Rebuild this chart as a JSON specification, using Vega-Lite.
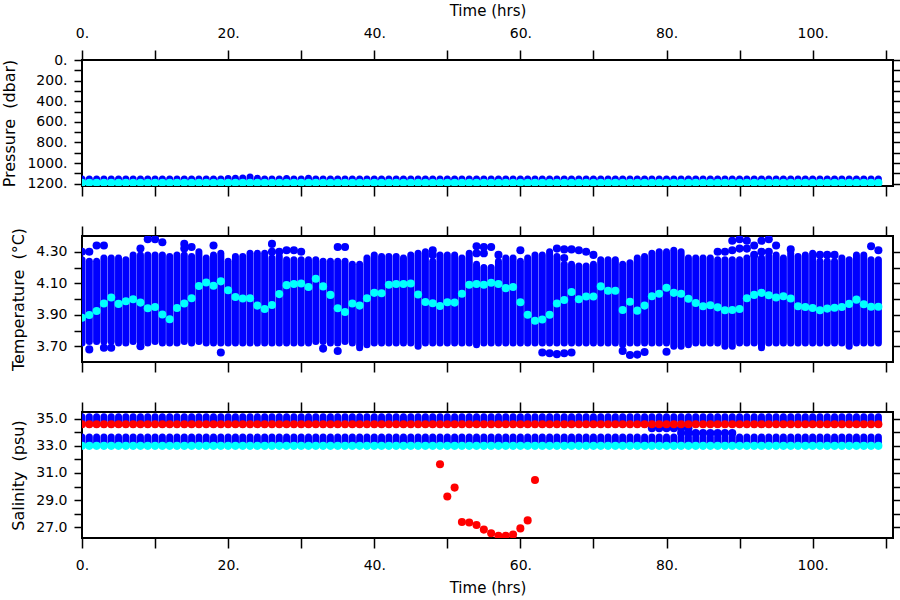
{
  "$schema": "https://vega.github.io/schema/vega-lite/v6.json",
  "background": "white",
  "padding": {"left": 0, "top": 2, "right": 5, "bottom": 5},
  "datasets": {
    "obs": [
      {"t":0,"plo":1155,"pc":1192,"lo":3.72,"hi":4.25,"c":3.881,"sb":35.15,"sr":34.6,"sd":33.2,"se":33.65,"sc":33.0},
      {"t":1,"plo":1155,"pc":1192,"lo":3.73,"hi":4.24,"c":3.898,"sb":35.15,"sr":34.6,"sd":33.2,"se":33.65,"sc":33.0},
      {"t":2,"plo":1155,"pc":1192,"lo":3.73,"hi":4.24,"c":3.924,"sb":35.15,"sr":34.6,"sd":33.2,"se":33.65,"sc":33.0},
      {"t":3,"plo":1155,"pc":1192,"lo":3.73,"hi":4.26,"c":3.971,"sb":35.15,"sr":34.6,"sd":33.2,"se":33.65,"sc":33.0},
      {"t":4,"plo":1155,"pc":1192,"lo":3.73,"hi":4.26,"c":4.009,"sb":35.15,"sr":34.6,"sd":33.2,"se":33.65,"sc":33.0},
      {"t":5,"plo":1155,"pc":1192,"lo":3.72,"hi":4.26,"c":3.969,"sb":35.15,"sr":34.6,"sd":33.2,"se":33.65,"sc":33.0},
      {"t":6,"plo":1155,"pc":1192,"lo":3.72,"hi":4.25,"c":3.986,"sb":35.15,"sr":34.6,"sd":33.2,"se":33.65,"sc":33.0},
      {"t":7,"plo":1155,"pc":1192,"lo":3.73,"hi":4.28,"c":3.999,"sb":35.15,"sr":34.6,"sd":33.2,"se":33.65,"sc":33.0},
      {"t":8,"plo":1155,"pc":1192,"lo":3.72,"hi":4.28,"c":3.977,"sb":35.15,"sr":34.6,"sd":33.2,"se":33.65,"sc":33.0},
      {"t":9,"plo":1155,"pc":1192,"lo":3.72,"hi":4.28,"c":3.941,"sb":35.15,"sr":34.6,"sd":33.2,"se":33.65,"sc":33.0},
      {"t":10,"plo":1155,"pc":1192,"lo":3.73,"hi":4.28,"c":3.949,"sb":35.15,"sr":34.6,"sd":33.2,"se":33.65,"sc":33.0},
      {"t":11,"plo":1155,"pc":1192,"lo":3.72,"hi":4.28,"c":3.902,"sb":35.15,"sr":34.6,"sd":33.2,"se":33.65,"sc":33.0},
      {"t":12,"plo":1155,"pc":1192,"lo":3.72,"hi":4.27,"c":3.872,"sb":35.15,"sr":34.6,"sd":33.2,"se":33.65,"sc":33.0},
      {"t":13,"plo":1155,"pc":1192,"lo":3.72,"hi":4.28,"c":3.943,"sb":35.15,"sr":34.6,"sd":33.2,"se":33.65,"sc":33.0},
      {"t":14,"plo":1155,"pc":1192,"lo":3.73,"hi":4.28,"c":3.971,"sb":35.15,"sr":34.6,"sd":33.2,"se":33.65,"sc":33.0},
      {"t":15,"plo":1155,"pc":1192,"lo":3.72,"hi":4.27,"c":4.005,"sb":35.15,"sr":34.6,"sd":33.2,"se":33.65,"sc":33.0},
      {"t":16,"plo":1155,"pc":1192,"lo":3.73,"hi":4.30,"c":4.082,"sb":35.15,"sr":34.6,"sd":33.2,"se":33.65,"sc":33.0},
      {"t":17,"plo":1155,"pc":1192,"lo":3.72,"hi":4.26,"c":4.105,"sb":35.15,"sr":34.6,"sd":33.2,"se":33.65,"sc":33.0},
      {"t":18,"plo":1155,"pc":1192,"lo":3.72,"hi":4.28,"c":4.084,"sb":35.15,"sr":34.6,"sd":33.2,"se":33.65,"sc":33.0},
      {"t":19,"plo":1155,"pc":1192,"lo":3.72,"hi":4.29,"c":4.112,"sb":35.15,"sr":34.6,"sd":33.2,"se":33.65,"sc":33.0},
      {"t":20,"plo":1150,"pc":1192,"lo":3.72,"hi":4.24,"c":4.056,"sb":35.15,"sr":34.6,"sd":33.2,"se":33.65,"sc":33.0},
      {"t":21,"plo":1148,"pc":1192,"lo":3.72,"hi":4.27,"c":4.013,"sb":35.15,"sr":34.6,"sd":33.2,"se":33.65,"sc":33.0},
      {"t":22,"plo":1145,"pc":1192,"lo":3.72,"hi":4.27,"c":4.003,"sb":35.15,"sr":34.6,"sd":33.2,"se":33.65,"sc":33.0},
      {"t":23,"plo":1135,"pc":1192,"lo":3.72,"hi":4.29,"c":4.005,"sb":35.15,"sr":34.6,"sd":33.2,"se":33.65,"sc":33.0},
      {"t":24,"plo":1148,"pc":1192,"lo":3.72,"hi":4.29,"c":3.958,"sb":35.15,"sr":34.6,"sd":33.2,"se":33.65,"sc":33.0},
      {"t":25,"plo":1155,"pc":1192,"lo":3.72,"hi":4.29,"c":3.937,"sb":35.15,"sr":34.6,"sd":33.2,"se":33.65,"sc":33.0},
      {"t":26,"plo":1155,"pc":1192,"lo":3.72,"hi":4.26,"c":3.962,"sb":35.15,"sr":34.6,"sd":33.2,"se":33.65,"sc":33.0},
      {"t":27,"plo":1155,"pc":1192,"lo":3.72,"hi":4.27,"c":4.031,"sb":35.15,"sr":34.6,"sd":33.2,"se":33.65,"sc":33.0},
      {"t":28,"plo":1150,"pc":1192,"lo":3.72,"hi":4.25,"c":4.088,"sb":35.15,"sr":34.6,"sd":33.2,"se":33.65,"sc":33.0},
      {"t":29,"plo":1155,"pc":1192,"lo":3.72,"hi":4.25,"c":4.095,"sb":35.15,"sr":34.6,"sd":33.2,"se":33.65,"sc":33.0},
      {"t":30,"plo":1155,"pc":1192,"lo":3.72,"hi":4.25,"c":4.099,"sb":35.15,"sr":34.6,"sd":33.2,"se":33.65,"sc":33.0},
      {"t":31,"plo":1148,"pc":1192,"lo":3.72,"hi":4.25,"c":4.076,"sb":35.15,"sr":34.6,"sd":33.2,"se":33.65,"sc":33.0},
      {"t":32,"plo":1155,"pc":1192,"lo":3.73,"hi":4.25,"c":4.129,"sb":35.15,"sr":34.6,"sd":33.2,"se":33.65,"sc":33.0},
      {"t":33,"plo":1155,"pc":1192,"lo":3.73,"hi":4.24,"c":4.080,"sb":35.15,"sr":34.6,"sd":33.2,"se":33.65,"sc":33.0},
      {"t":34,"plo":1155,"pc":1192,"lo":3.72,"hi":4.24,"c":4.026,"sb":35.15,"sr":34.6,"sd":33.2,"se":33.65,"sc":33.0},
      {"t":35,"plo":1155,"pc":1192,"lo":3.72,"hi":4.24,"c":3.941,"sb":35.15,"sr":34.6,"sd":33.2,"se":33.65,"sc":33.0},
      {"t":36,"plo":1155,"pc":1192,"lo":3.73,"hi":4.24,"c":3.917,"sb":35.15,"sr":34.6,"sd":33.2,"se":33.65,"sc":33.0},
      {"t":37,"plo":1155,"pc":1192,"lo":3.72,"hi":4.22,"c":3.972,"sb":35.15,"sr":34.6,"sd":33.2,"se":33.65,"sc":33.0},
      {"t":38,"plo":1155,"pc":1192,"lo":3.69,"hi":4.22,"c":3.958,"sb":35.15,"sr":34.6,"sd":33.2,"se":33.65,"sc":33.0},
      {"t":39,"plo":1155,"pc":1192,"lo":3.71,"hi":4.26,"c":4.005,"sb":35.15,"sr":34.6,"sd":33.2,"se":33.65,"sc":33.0},
      {"t":40,"plo":1155,"pc":1192,"lo":3.72,"hi":4.28,"c":4.039,"sb":35.15,"sr":34.6,"sd":33.2,"se":33.65,"sc":33.0},
      {"t":41,"plo":1155,"pc":1192,"lo":3.72,"hi":4.27,"c":4.037,"sb":35.15,"sr":34.6,"sd":33.2,"se":33.65,"sc":33.0},
      {"t":42,"plo":1155,"pc":1192,"lo":3.72,"hi":4.27,"c":4.090,"sb":35.15,"sr":34.6,"sd":33.2,"se":33.65,"sc":33.0},
      {"t":43,"plo":1155,"pc":1192,"lo":3.72,"hi":4.27,"c":4.095,"sb":35.15,"sr":34.6,"sd":33.2,"se":33.65,"sc":33.0},
      {"t":44,"plo":1155,"pc":1192,"lo":3.72,"hi":4.26,"c":4.095,"sb":35.15,"sr":34.6,"sd":33.2,"se":33.65,"sc":33.0},
      {"t":45,"plo":1155,"pc":1192,"lo":3.72,"hi":4.28,"c":4.099,"sb":35.15,"sr":34.6,"sd":33.2,"se":33.65,"sc":33.0},
      {"t":46,"plo":1155,"pc":1192,"lo":3.70,"hi":4.29,"c":4.028,"sb":35.15,"sr":34.6,"sd":33.2,"se":33.65,"sc":33.0},
      {"t":47,"plo":1155,"pc":1192,"lo":3.72,"hi":4.30,"c":3.981,"sb":35.15,"sr":34.6,"sd":33.2,"se":33.65,"sc":33.0},
      {"t":48,"plo":1155,"pc":1192,"lo":3.72,"hi":4.24,"c":3.973,"sb":35.15,"sr":34.6,"sd":33.2,"se":33.65,"sc":33.0},
      {"t":49,"plo":1155,"pc":1192,"lo":3.72,"hi":4.28,"c":3.956,"sb":35.15,"sr":34.6,"sd":33.2,"se":33.65,"sc":33.0},
      {"t":50,"plo":1155,"pc":1192,"lo":3.72,"hi":4.28,"c":3.979,"sb":35.15,"sr":34.6,"sd":33.2,"se":33.65,"sc":33.0},
      {"t":51,"plo":1155,"pc":1192,"lo":3.72,"hi":4.28,"c":3.977,"sb":35.15,"sr":34.6,"sd":33.2,"se":33.65,"sc":33.0},
      {"t":52,"plo":1155,"pc":1192,"lo":3.72,"hi":4.26,"c":4.033,"sb":35.15,"sr":34.6,"sd":33.2,"se":33.65,"sc":33.0},
      {"t":53,"plo":1155,"pc":1192,"lo":3.72,"hi":4.29,"c":4.090,"sb":35.15,"sr":34.6,"sd":33.2,"se":33.65,"sc":33.0},
      {"t":54,"plo":1155,"pc":1192,"lo":3.71,"hi":4.22,"c":4.095,"sb":35.15,"sr":34.6,"sd":33.2,"se":33.65,"sc":33.0},
      {"t":55,"plo":1155,"pc":1192,"lo":3.72,"hi":4.20,"c":4.090,"sb":35.15,"sr":34.6,"sd":33.2,"se":33.65,"sc":33.0},
      {"t":56,"plo":1155,"pc":1192,"lo":3.72,"hi":4.20,"c":4.103,"sb":35.15,"sr":34.6,"sd":33.2,"se":33.65,"sc":33.0},
      {"t":57,"plo":1155,"pc":1192,"lo":3.72,"hi":4.24,"c":4.095,"sb":35.15,"sr":34.6,"sd":33.2,"se":33.65,"sc":33.0},
      {"t":58,"plo":1155,"pc":1192,"lo":3.72,"hi":4.26,"c":4.069,"sb":35.15,"sr":34.6,"sd":33.2,"se":33.65,"sc":33.0},
      {"t":59,"plo":1155,"pc":1192,"lo":3.72,"hi":4.26,"c":4.076,"sb":35.15,"sr":34.6,"sd":33.2,"se":33.65,"sc":33.0},
      {"t":60,"plo":1155,"pc":1192,"lo":3.72,"hi":4.24,"c":3.979,"sb":35.15,"sr":34.6,"sd":33.2,"se":33.65,"sc":33.0},
      {"t":61,"plo":1155,"pc":1192,"lo":3.72,"hi":4.26,"c":3.900,"sb":35.15,"sr":34.6,"sd":33.2,"se":33.65,"sc":33.0},
      {"t":62,"plo":1155,"pc":1192,"lo":3.72,"hi":4.28,"c":3.862,"sb":35.15,"sr":34.6,"sd":33.2,"se":33.65,"sc":33.0},
      {"t":63,"plo":1155,"pc":1192,"lo":3.72,"hi":4.28,"c":3.870,"sb":35.15,"sr":34.6,"sd":33.2,"se":33.65,"sc":33.0},
      {"t":64,"plo":1155,"pc":1192,"lo":3.72,"hi":4.30,"c":3.900,"sb":35.15,"sr":34.6,"sd":33.2,"se":33.65,"sc":33.0},
      {"t":65,"plo":1155,"pc":1192,"lo":3.72,"hi":4.27,"c":3.971,"sb":35.15,"sr":34.6,"sd":33.2,"se":33.65,"sc":33.0},
      {"t":66,"plo":1155,"pc":1192,"lo":3.72,"hi":4.22,"c":3.994,"sb":35.15,"sr":34.6,"sd":33.2,"se":33.65,"sc":33.0},
      {"t":67,"plo":1155,"pc":1192,"lo":3.72,"hi":4.22,"c":4.044,"sb":35.15,"sr":34.6,"sd":33.2,"se":33.65,"sc":33.0},
      {"t":68,"plo":1155,"pc":1192,"lo":3.72,"hi":4.21,"c":3.999,"sb":35.15,"sr":34.6,"sd":33.2,"se":33.65,"sc":33.0},
      {"t":69,"plo":1155,"pc":1192,"lo":3.72,"hi":4.21,"c":4.016,"sb":35.15,"sr":34.6,"sd":33.2,"se":33.65,"sc":33.0},
      {"t":70,"plo":1155,"pc":1192,"lo":3.72,"hi":4.22,"c":4.016,"sb":35.15,"sr":34.6,"sd":33.2,"se":33.65,"sc":33.0},
      {"t":71,"plo":1155,"pc":1192,"lo":3.72,"hi":4.25,"c":4.080,"sb":35.15,"sr":34.6,"sd":33.2,"se":33.65,"sc":33.0},
      {"t":72,"plo":1155,"pc":1192,"lo":3.72,"hi":4.25,"c":4.052,"sb":35.15,"sr":34.6,"sd":33.2,"se":33.65,"sc":33.0},
      {"t":73,"plo":1155,"pc":1192,"lo":3.72,"hi":4.25,"c":4.052,"sb":35.15,"sr":34.6,"sd":33.2,"se":33.65,"sc":33.0},
      {"t":74,"plo":1155,"pc":1192,"lo":3.71,"hi":4.22,"c":3.930,"sb":35.15,"sr":34.6,"sd":33.2,"se":33.65,"sc":33.0},
      {"t":75,"plo":1155,"pc":1192,"lo":3.72,"hi":4.23,"c":3.983,"sb":35.15,"sr":34.6,"sd":33.2,"se":33.65,"sc":33.0},
      {"t":76,"plo":1155,"pc":1192,"lo":3.72,"hi":4.26,"c":3.926,"sb":35.15,"sr":34.6,"sd":33.2,"se":33.65,"sc":33.0},
      {"t":77,"plo":1155,"pc":1192,"lo":3.72,"hi":4.27,"c":3.958,"sb":35.15,"sr":34.6,"sd":33.2,"se":33.65,"sc":33.0},
      {"t":78,"plo":1155,"pc":1192,"lo":3.72,"hi":4.29,"c":4.018,"sb":35.15,"sr":34.6,"sd":33.2,"se":33.65,"sc":33.0},
      {"t":79,"plo":1155,"pc":1192,"lo":3.72,"hi":4.30,"c":4.033,"sb":35.15,"sr":34.6,"sd":33.2,"se":33.65,"sc":33.0},
      {"t":80,"plo":1155,"pc":1192,"lo":3.72,"hi":4.30,"c":4.071,"sb":35.15,"sr":34.6,"sd":33.2,"se":33.65,"sc":33.0},
      {"t":81,"plo":1155,"pc":1192,"lo":3.70,"hi":4.31,"c":4.039,"sb":35.15,"sr":34.6,"sd":33.2,"se":33.65,"sc":33.0},
      {"t":82,"plo":1155,"pc":1192,"lo":3.70,"hi":4.30,"c":4.033,"sb":35.15,"sr":34.6,"sd":33.2,"se":33.65,"sc":33.0},
      {"t":83,"plo":1155,"pc":1192,"lo":3.71,"hi":4.26,"c":4.001,"sb":35.15,"sr":34.6,"sd":33.2,"se":33.65,"sc":33.0},
      {"t":84,"plo":1155,"pc":1192,"lo":3.72,"hi":4.26,"c":3.975,"sb":35.15,"sr":34.6,"sd":33.2,"se":33.65,"sc":33.0},
      {"t":85,"plo":1155,"pc":1192,"lo":3.72,"hi":4.26,"c":3.954,"sb":35.15,"sr":34.6,"sd":33.2,"se":33.65,"sc":33.0},
      {"t":86,"plo":1155,"pc":1192,"lo":3.72,"hi":4.26,"c":3.960,"sb":35.15,"sr":34.6,"sd":33.2,"se":33.65,"sc":33.0},
      {"t":87,"plo":1155,"pc":1192,"lo":3.72,"hi":4.25,"c":3.947,"sb":35.15,"sr":34.6,"sd":33.2,"se":33.65,"sc":33.0},
      {"t":88,"plo":1155,"pc":1192,"lo":3.70,"hi":4.25,"c":3.928,"sb":35.15,"sr":34.6,"sd":33.2,"se":33.65,"sc":33.0},
      {"t":89,"plo":1155,"pc":1192,"lo":3.70,"hi":4.25,"c":3.930,"sb":35.15,"sr":34.6,"sd":33.2,"se":33.65,"sc":33.0},
      {"t":90,"plo":1155,"pc":1192,"lo":3.72,"hi":4.25,"c":3.937,"sb":35.15,"sr":34.6,"sd":33.2,"se":33.65,"sc":33.0},
      {"t":91,"plo":1155,"pc":1192,"lo":3.72,"hi":4.26,"c":4.005,"sb":35.15,"sr":34.6,"sd":33.2,"se":33.65,"sc":33.0},
      {"t":92,"plo":1155,"pc":1192,"lo":3.72,"hi":4.27,"c":4.026,"sb":35.15,"sr":34.6,"sd":33.2,"se":33.65,"sc":33.0},
      {"t":93,"plo":1155,"pc":1192,"lo":3.69,"hi":4.26,"c":4.039,"sb":35.15,"sr":34.6,"sd":33.2,"se":33.65,"sc":33.0},
      {"t":94,"plo":1155,"pc":1192,"lo":3.72,"hi":4.27,"c":4.024,"sb":35.15,"sr":34.6,"sd":33.2,"se":33.65,"sc":33.0},
      {"t":95,"plo":1155,"pc":1192,"lo":3.72,"hi":4.28,"c":4.009,"sb":35.15,"sr":34.6,"sd":33.2,"se":33.65,"sc":33.0},
      {"t":96,"plo":1155,"pc":1192,"lo":3.72,"hi":4.26,"c":4.018,"sb":35.15,"sr":34.6,"sd":33.2,"se":33.65,"sc":33.0},
      {"t":97,"plo":1155,"pc":1192,"lo":3.72,"hi":4.29,"c":4.003,"sb":35.15,"sr":34.6,"sd":33.2,"se":33.65,"sc":33.0},
      {"t":98,"plo":1155,"pc":1192,"lo":3.72,"hi":4.27,"c":3.954,"sb":35.15,"sr":34.6,"sd":33.2,"se":33.65,"sc":33.0},
      {"t":99,"plo":1155,"pc":1192,"lo":3.72,"hi":4.28,"c":3.949,"sb":35.15,"sr":34.6,"sd":33.2,"se":33.65,"sc":33.0},
      {"t":100,"plo":1155,"pc":1192,"lo":3.72,"hi":4.29,"c":3.943,"sb":35.15,"sr":34.6,"sd":33.2,"se":33.65,"sc":33.0},
      {"t":101,"plo":1155,"pc":1192,"lo":3.72,"hi":4.24,"c":3.928,"sb":35.15,"sr":34.6,"sd":33.2,"se":33.65,"sc":33.0},
      {"t":102,"plo":1155,"pc":1192,"lo":3.72,"hi":4.24,"c":3.939,"sb":35.15,"sr":34.6,"sd":33.2,"se":33.65,"sc":33.0},
      {"t":103,"plo":1155,"pc":1192,"lo":3.72,"hi":4.24,"c":3.945,"sb":35.15,"sr":34.6,"sd":33.2,"se":33.65,"sc":33.0},
      {"t":104,"plo":1155,"pc":1192,"lo":3.72,"hi":4.26,"c":3.949,"sb":35.15,"sr":34.6,"sd":33.2,"se":33.65,"sc":33.0},
      {"t":105,"plo":1155,"pc":1192,"lo":3.70,"hi":4.25,"c":3.969,"sb":35.15,"sr":34.6,"sd":33.2,"se":33.65,"sc":33.0},
      {"t":106,"plo":1155,"pc":1192,"lo":3.72,"hi":4.28,"c":3.996,"sb":35.15,"sr":34.6,"sd":33.2,"se":33.65,"sc":33.0},
      {"t":107,"plo":1155,"pc":1192,"lo":3.72,"hi":4.28,"c":3.967,"sb":35.15,"sr":34.6,"sd":33.2,"se":33.65,"sc":33.0},
      {"t":108,"plo":1155,"pc":1192,"lo":3.72,"hi":4.25,"c":3.951,"sb":35.15,"sr":34.6,"sd":33.2,"se":33.65,"sc":33.0},
      {"t":109,"plo":1155,"pc":1192,"lo":3.72,"hi":4.25,"c":3.951,"sb":35.15,"sr":34.6,"sd":33.2,"se":33.65,"sc":33.0}
    ],
    "tout": [
      {"t":0,"v":4.30},{"t":1,"v":4.30},{"t":2,"v":4.34},{"t":3,"v":4.34},{"t":8,"v":4.32},{"t":9,"v":4.38},{"t":10,"v":4.38},{"t":11,"v":4.36},{"t":14,"v":4.35},{"t":14,"v":4.32},{"t":15,"v":4.33},{"t":18,"v":4.34},{"t":26,"v":4.35},{"t":26,"v":4.30},{"t":27,"v":4.30},{"t":28,"v":4.31},{"t":29,"v":4.31},{"t":30,"v":4.30},{"t":35,"v":4.33},{"t":36,"v":4.33},{"t":48,"v":4.31},{"t":48,"v":4.28},{"t":54,"v":4.335},{"t":54,"v":4.29},{"t":55,"v":4.33},{"t":55,"v":4.29},{"t":56,"v":4.33},{"t":57,"v":4.28},{"t":60,"v":4.31},{"t":65,"v":4.32},{"t":66,"v":4.315},{"t":66,"v":4.26},{"t":67,"v":4.315},{"t":68,"v":4.31},{"t":69,"v":4.30},{"t":70,"v":4.28},{"t":87,"v":4.30},{"t":88,"v":4.30},{"t":89,"v":4.37},{"t":89,"v":4.31},{"t":90,"v":4.38},{"t":90,"v":4.32},{"t":91,"v":4.37},{"t":91,"v":4.32},{"t":92,"v":4.34},{"t":92,"v":4.28},{"t":93,"v":4.37},{"t":93,"v":4.30},{"t":94,"v":4.38},{"t":94,"v":4.30},{"t":95,"v":4.34},{"t":97,"v":4.315},{"t":101,"v":4.28},{"t":102,"v":4.28},{"t":103,"v":4.28},{"t":108,"v":4.335},{"t":109,"v":4.31},
      {"t":1,"v":3.68},{"t":3,"v":3.69},{"t":4,"v":3.69},{"t":8,"v":3.70},{"t":19,"v":3.66},{"t":33,"v":3.685},{"t":35,"v":3.67},{"t":63,"v":3.66},{"t":64,"v":3.655},{"t":65,"v":3.65},{"t":66,"v":3.655},{"t":67,"v":3.66},{"t":74,"v":3.67},{"t":75,"v":3.645},{"t":76,"v":3.647},{"t":77,"v":3.663},{"t":80,"v":3.665}
    ],
    "sdip": [
      {"t":49,"s":31.65},{"t":50,"s":29.26},{"t":51,"s":29.92},{"t":52,"s":27.38},{"t":53,"s":27.35},{"t":54,"s":27.16},{"t":55,"s":26.82},{"t":56,"s":26.55},{"t":57,"s":26.36},{"t":58,"s":26.36},{"t":59,"s":26.45},{"t":60,"s":26.91},{"t":61,"s":27.5},{"t":62,"s":30.48}
    ],
    "sx": [
      {"t":78,"s":34.3},{"t":79,"s":34.3},{"t":80,"s":34.3},{"t":81,"s":34.3},{"t":82,"s":34.3},{"t":83,"s":34.3},
      {"t":82,"s":33.95},{"t":83,"s":33.95},{"t":84,"s":33.95},{"t":85,"s":33.95},{"t":86,"s":33.95},{"t":87,"s":33.95},{"t":88,"s":33.95},{"t":89,"s":33.95}
    ]
  },
  "vconcat": [
    {
      "width": 811,
      "height": 126,
      "layer": [
        {
          "data": {"name": "obs"},
          "mark": {"type": "rule", "strokeWidth": 7, "strokeCap": "round", "color": "#0000ff", "clip": true},
          "encoding": {
            "x": {"field": "t", "type": "quantitative", "scale": {"domain": [0, 111], "nice": false, "zero": false},
                  "axis": {"orient": "top", "values": [0,10,20,30,40,50,60,70,80,90,100,110], "labelExpr": "datum.value % 20 === 0 ? datum.value + '.' : ''", "title": "Time (hrs)", "tickSize": 10, "labelPadding": 10, "titlePadding": 8}},
            "y": {"field": "plo", "type": "quantitative", "scale": {"domain": [0, 1223], "reverse": true, "nice": false, "zero": false},
                  "axis": {"orient": "left", "values": [0,100,200,300,400,500,600,700,800,900,1000,1100,1200], "labelExpr": "datum.value % 200 === 0 ? datum.value + '.' : ''", "title": "Pressure\u00a0\u00a0(dbar)", "titleFontSize": 16, "titlePadding": 9}},
            "y2": {"field": "pc"}
          }
        },
        {
          "data": {"name": "obs"},
          "mark": {"type": "circle", "size": 65, "color": "#00ffff", "opacity": 1, "clip": true},
          "encoding": {
            "x": {"field": "t", "type": "quantitative", "scale": {"domain": [0, 111], "nice": false, "zero": false},
                  "axis": {"orient": "bottom", "values": [0,10,20,30,40,50,60,70,80,90,100,110], "labels": false, "title": null, "tickSize": 10}},
            "y": {"field": "pc", "type": "quantitative", "scale": {"domain": [0, 1223], "reverse": true, "nice": false, "zero": false},
                  "axis": {"orient": "right", "values": [0,100,200,300,400,500,600,700,800,900,1000,1100,1200], "labels": false, "title": null}}
          }
        }
      ],
      "resolve": {"axis": {"x": "independent", "y": "independent"}}
    },
    {
      "width": 811,
      "height": 126,
      "layer": [
        {
          "data": {"name": "obs"},
          "mark": {"type": "rule", "strokeWidth": 7, "strokeCap": "round", "color": "#0000ff", "clip": true},
          "encoding": {
            "x": {"field": "t", "type": "quantitative", "scale": {"domain": [0, 111], "nice": false, "zero": false},
                  "axis": {"orient": "bottom", "values": [0,10,20,30,40,50,60,70,80,90,100,110], "labels": false, "title": null, "tickSize": 10}},
            "y": {"field": "lo", "type": "quantitative", "scale": {"domain": [3.6, 4.4], "nice": false, "zero": false},
                  "axis": {"orient": "left", "values": [3.7,3.8,3.9,4.0,4.1,4.2,4.3], "labelExpr": "indexof(['3.70','3.90','4.10','4.30'], format(datum.value, '.2f')) >= 0 ? format(datum.value, '.2f') : ''", "title": "Temperature\u00a0\u00a0(°C)", "titleFontSize": 16, "titlePadding": 9}},
            "y2": {"field": "hi"}
          }
        },
        {
          "data": {"name": "tout"},
          "mark": {"type": "circle", "size": 65, "color": "#0000ff", "opacity": 1, "clip": true},
          "encoding": {
            "x": {"field": "t", "type": "quantitative", "scale": {"domain": [0, 111], "nice": false, "zero": false}, "axis": null},
            "y": {"field": "v", "type": "quantitative", "scale": {"domain": [3.6, 4.4], "nice": false, "zero": false}, "axis": null}
          }
        },
        {
          "data": {"name": "obs"},
          "mark": {"type": "circle", "size": 65, "color": "#00ffff", "opacity": 1, "clip": true},
          "encoding": {
            "x": {"field": "t", "type": "quantitative", "scale": {"domain": [0, 111], "nice": false, "zero": false},
                  "axis": {"orient": "top", "values": [0,10,20,30,40,50,60,70,80,90,100,110], "labels": false, "title": null, "tickSize": 10}},
            "y": {"field": "c", "type": "quantitative", "scale": {"domain": [3.6, 4.4], "nice": false, "zero": false},
                  "axis": {"orient": "right", "values": [3.7,3.8,3.9,4.0,4.1,4.2,4.3], "labels": false, "title": null}}
          }
        }
      ],
      "resolve": {"axis": {"x": "independent", "y": "independent"}}
    },
    {
      "width": 811,
      "height": 126,
      "layer": [
        {
          "data": {"name": "obs"},
          "mark": {"type": "rule", "strokeWidth": 7, "strokeCap": "round", "color": "#0000ff", "clip": true},
          "encoding": {
            "x": {"field": "t", "type": "quantitative", "scale": {"domain": [0, 111], "nice": false, "zero": false},
                  "axis": {"orient": "top", "values": [0,10,20,30,40,50,60,70,80,90,100,110], "labels": false, "title": null, "tickSize": 10}},
            "y": {"field": "sr", "type": "quantitative", "scale": {"domain": [26.2, 35.5], "nice": false, "zero": false},
                  "axis": {"orient": "left", "values": [27,28,29,30,31,32,33,34,35], "labelExpr": "datum.value % 2 === 1 ? format(datum.value, '.1f') : ''", "title": "Salinity\u00a0\u00a0(psu)", "titleFontSize": 16, "titlePadding": 9}},
            "y2": {"field": "sb"}
          }
        },
        {
          "data": {"name": "obs"},
          "mark": {"type": "rule", "strokeWidth": 7, "strokeCap": "round", "color": "#0000ff", "clip": true},
          "encoding": {
            "x": {"field": "t", "type": "quantitative", "scale": {"domain": [0, 111], "nice": false, "zero": false}, "axis": null},
            "y": {"field": "sd", "type": "quantitative", "scale": {"domain": [26.2, 35.5], "nice": false, "zero": false}, "axis": null},
            "y2": {"field": "se"}
          }
        },
        {
          "data": {"name": "sx"},
          "mark": {"type": "circle", "size": 65, "color": "#0000ff", "opacity": 1, "clip": true},
          "encoding": {
            "x": {"field": "t", "type": "quantitative", "scale": {"domain": [0, 111], "nice": false, "zero": false}, "axis": null},
            "y": {"field": "s", "type": "quantitative", "scale": {"domain": [26.2, 35.5], "nice": false, "zero": false}, "axis": null}
          }
        },
        {
          "data": {"name": "obs"},
          "mark": {"type": "circle", "size": 65, "color": "#00ffff", "opacity": 1, "clip": true},
          "encoding": {
            "x": {"field": "t", "type": "quantitative", "scale": {"domain": [0, 111], "nice": false, "zero": false},
                  "axis": {"orient": "bottom", "values": [0,10,20,30,40,50,60,70,80,90,100,110], "labelExpr": "datum.value % 20 === 0 ? datum.value + '.' : ''", "title": "Time (hrs)", "tickSize": 10, "labelPadding": 10, "titlePadding": 8}},
            "y": {"field": "sc", "type": "quantitative", "scale": {"domain": [26.2, 35.5], "nice": false, "zero": false},
                  "axis": {"orient": "right", "values": [27,28,29,30,31,32,33,34,35], "labels": false, "title": null}}
          }
        },
        {
          "data": {"name": "obs"},
          "mark": {"type": "circle", "size": 65, "color": "#ff0000", "opacity": 1, "clip": true},
          "encoding": {
            "x": {"field": "t", "type": "quantitative", "scale": {"domain": [0, 111], "nice": false, "zero": false}, "axis": null},
            "y": {"field": "sr", "type": "quantitative", "scale": {"domain": [26.2, 35.5], "nice": false, "zero": false}, "axis": null}
          }
        },
        {
          "data": {"name": "sdip"},
          "mark": {"type": "circle", "size": 65, "color": "#ff0000", "opacity": 1, "clip": true},
          "encoding": {
            "x": {"field": "t", "type": "quantitative", "scale": {"domain": [0, 111], "nice": false, "zero": false}, "axis": null},
            "y": {"field": "s", "type": "quantitative", "scale": {"domain": [26.2, 35.5], "nice": false, "zero": false}, "axis": null}
          }
        }
      ],
      "resolve": {"axis": {"x": "independent", "y": "independent"}}
    }
  ],
  "spacing": 50,
  "bounds": "flush",
  "config": {
    "font": "DejaVu Sans",
    "view": {"stroke": "#000000", "strokeWidth": 2},
    "axis": {
      "labelFont": "DejaVu Sans",
      "labelFontSize": 14,
      "labelColor": "#000000",
      "titleFont": "DejaVu Sans",
      "titleFontSize": 15,
      "titleFontWeight": "normal",
      "titleColor": "#000000",
      "tickColor": "#000000",
      "tickWidth": 1.5,
      "tickSize": 8,
      "labelPadding": 7,
      "domain": false,
      "grid": false,
      "labelOverlap": false,
      "labelFlush": false,
      "labelBound": false
    }
  }
}
